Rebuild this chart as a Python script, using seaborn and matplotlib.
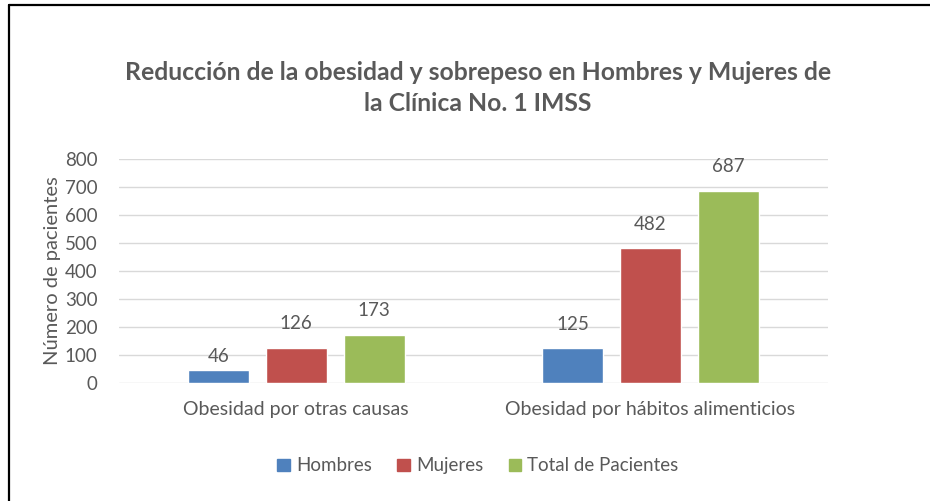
import matplotlib
matplotlib.use('Agg')
import matplotlib.pyplot as plt
import pandas as pd
import seaborn as sns
from matplotlib.lines import Line2D

CATEGORIAS = ['Obesidad por otras causas', 'Obesidad por hábitos alimenticios']
SERIES = ['Hombres', 'Mujeres', 'Total de Pacientes']
HOMBRES = [46, 125]
MUJERES = [126, 482]
TOTAL = [173, 687]
COLORES = ['#4F81BD', '#C0504D', '#9BBB59']
TEXTO = '#595959'

df = pd.DataFrame({
    'categoria': CATEGORIAS * 3,
    'serie': [s for s in SERIES for _ in CATEGORIAS],
    'valor': HOMBRES + MUJERES + TOTAL,
})

sns.set_theme(style="white")
plt.rcParams['font.family'] = ['Lato', 'DejaVu Sans']

fig = plt.figure(figsize=(9.3, 5.01), dpi=100)
ax = fig.add_axes([0.128, 0.2355, 0.762, 0.4471])

sns.barplot(data=df, x='categoria', y='valor', hue='serie', hue_order=SERIES,
            palette=COLORES, width=0.66, gap=0.22, saturation=1, ax=ax, legend=False)

# etiquetas de valor sobre cada barra (la barra baja lleva menos separación, como en Excel)
for cont in ax.containers:
    for barra in cont:
        alto = barra.get_height()
        sep = 4 if alto < 60 else 11
        ax.annotate(f"{alto:.0f}", (barra.get_x() + barra.get_width() / 2, alto),
                    xytext=(0, sep), textcoords='offset points', ha='center', va='bottom',
                    fontsize=13.5, color=TEXTO)

ax.set_ylim(0, 800)
ax.set_xlim(-0.5, 1.5)
ax.set_yticks(range(0, 801, 100))
ax.yaxis.grid(True, color='#D9D9D9', linewidth=1)
ax.set_axisbelow(True)
for s in ax.spines.values():
    s.set_visible(False)
ax.tick_params(axis='both', length=0, labelsize=13.5, colors=TEXTO)
ax.tick_params(axis='x', labelsize=14, pad=13)
ax.tick_params(axis='y', pad=15.5)
ax.set_xlabel('')
ax.set_ylabel('Número de pacientes', fontsize=14.5, color=TEXTO, labelpad=3)

fig.text(0.514, 0.825, 'Reducción de la obesidad y sobrepeso en Hombres y Mujeres de\nla Clínica No. 1 IMSS',
         ha='center', va='center', fontsize=17.8, fontweight='bold', color=TEXTO, linespacing=1.42)

handles = [plt.Rectangle((0, 0), 1, 1, color=c) for c in COLORES]
fig.legend(handles, SERIES, loc='center', bbox_to_anchor=(0.514, 0.070), ncol=3,
           frameon=False, fontsize=13.5, labelcolor=TEXTO, handlelength=0.65,
           handleheight=0.65, handletextpad=0.35, columnspacing=1.35)

fig.add_artist(Line2D([0.0102, 0.0102], [0, 0.99], color='black', linewidth=1.6))
fig.add_artist(Line2D([0.0102, 1], [0.99, 0.99], color='black', linewidth=1.6))

fig.savefig('out.png', dpi=100)
